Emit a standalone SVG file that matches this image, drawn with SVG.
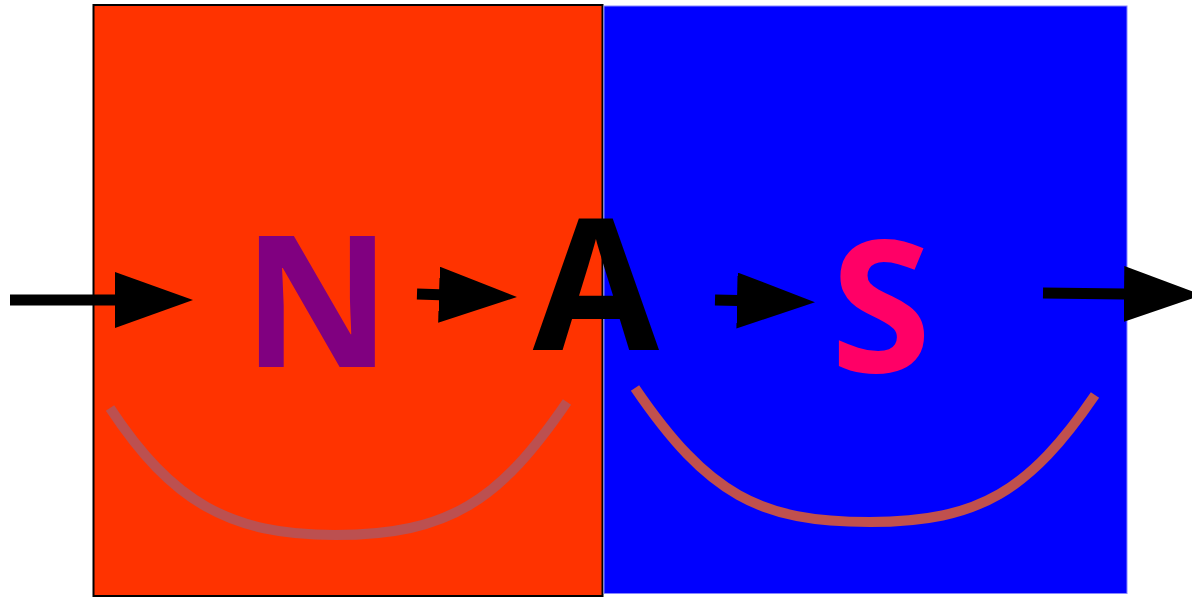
<svg xmlns="http://www.w3.org/2000/svg" width="1192" height="597" viewBox="0 0 1192 597">
<style>
.lbl{font-family:"Open Sans","Liberation Sans",sans-serif;font-weight:bold;font-size:183px;text-anchor:middle}
.conn{stroke:#000;stroke-width:11;fill:none;marker-end:url(#ah)}
.smile{fill:none;stroke-width:10}
</style>
<defs>
<marker id="ah" markerUnits="userSpaceOnUse" markerWidth="80" markerHeight="58" refX="1" refY="28" orient="auto" viewBox="0 0 80 58">
<path d="M0,0 L78,28 L0,56 Z" fill="#000"/>
</marker>
</defs>
<rect x="93.5" y="5" width="509" height="591" fill="#ff3300" stroke="#000" stroke-width="2"/>
<rect x="604" y="6" width="523" height="587.5" fill="#0000ff" stroke="#8888ff" stroke-width="1"/>
<path class="smile" stroke="#bc5050" d="M110,408 C172,502 230,535 335,535 C450,535 500,500 567,402"/>
<path class="smile" stroke="#c0504d" d="M635,388 C708,495 760,522 870,522 C980,522 1030,490 1095,395"/>
<g id="node-N"><text class="lbl" x="317" y="367" fill="#800080">N</text></g>
<g id="node-A"><text class="lbl" x="596" y="350" fill="#000">A</text></g>
<g id="node-S"><text class="lbl" x="881" y="372" fill="#ff0066">S</text></g>
<g id="connectors">
<line class="conn" x1="10" y1="300" x2="116" y2="300"/>
<line class="conn" x1="417" y1="294" x2="440" y2="294.7"/>
<line class="conn" x1="715" y1="300" x2="738" y2="300.5"/>
<line class="conn" x1="1043" y1="293" x2="1125" y2="294"/>
</g>
</svg>
